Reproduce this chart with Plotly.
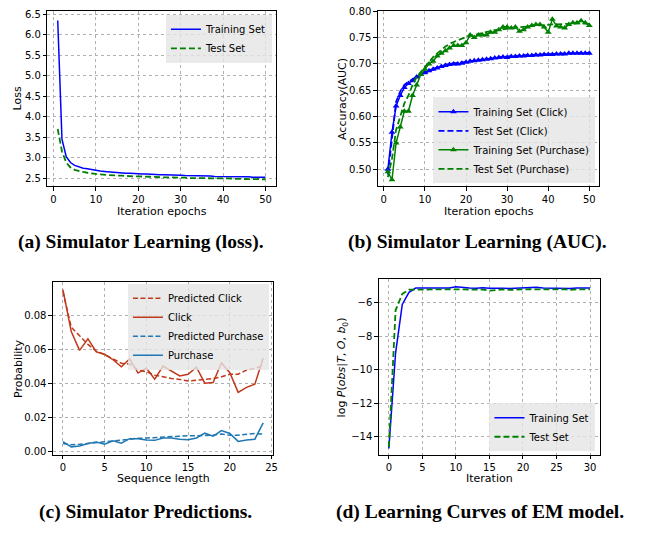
import plotly.graph_objects as go

# ---------- (a) loss ----------
epochs = list(range(1, 51))
loss_train = [6.35, 3.45, 3.02, 2.88, 2.81, 2.77, 2.74, 2.73, 2.71, 2.68,
              2.67, 2.66, 2.65, 2.64, 2.63, 2.63, 2.62, 2.62, 2.61, 2.61,
              2.60, 2.60, 2.59, 2.59, 2.58, 2.58, 2.58, 2.57, 2.57, 2.57,
              2.56, 2.56, 2.56, 2.55, 2.55, 2.55, 2.55, 2.54, 2.54, 2.54,
              2.54, 2.53, 2.53, 2.53, 2.53, 2.53, 2.52, 2.52, 2.52, 2.52]
loss_test = [3.70, 3.15, 2.88, 2.76, 2.70, 2.67, 2.65, 2.63, 2.61, 2.60,
             2.59, 2.58, 2.58, 2.57, 2.56, 2.56, 2.55, 2.55, 2.54, 2.54,
             2.54, 2.53, 2.53, 2.53, 2.52, 2.52, 2.52, 2.51, 2.51, 2.51,
             2.51, 2.50, 2.50, 2.50, 2.50, 2.50, 2.49, 2.49, 2.49, 2.49,
             2.49, 2.49, 2.48, 2.48, 2.48, 2.48, 2.48, 2.48, 2.47, 2.47]

# ---------- (b) AUC ----------
auc_train_click = [0.500, 0.570, 0.620, 0.640, 0.655, 0.663, 0.668, 0.675, 0.680, 0.683,
                   0.687, 0.690, 0.692, 0.695, 0.697, 0.699, 0.700, 0.700, 0.701, 0.703,
                   0.705, 0.706, 0.707, 0.708, 0.709, 0.710, 0.711, 0.712, 0.713, 0.712,
                   0.714, 0.714, 0.715, 0.715, 0.716, 0.716, 0.717, 0.717, 0.718, 0.718,
                   0.718, 0.719, 0.719, 0.719, 0.720, 0.720, 0.720, 0.720, 0.720, 0.720]
auc_test_click = [0.490, 0.555, 0.628, 0.648, 0.660, 0.666, 0.671, 0.676, 0.680, 0.684,
                  0.688, 0.691, 0.693, 0.696, 0.698, 0.700, 0.701, 0.702, 0.703, 0.704,
                  0.706, 0.707, 0.708, 0.709, 0.710, 0.711, 0.712, 0.713, 0.713, 0.714,
                  0.715, 0.715, 0.716, 0.716, 0.717, 0.717, 0.718, 0.718, 0.718, 0.719,
                  0.719, 0.719, 0.720, 0.720, 0.720, 0.720, 0.721, 0.721, 0.721, 0.721]
auc_train_purchase = [0.495, 0.480, 0.550, 0.580, 0.610, 0.610, 0.640, 0.660, 0.680, 0.690,
                      0.700, 0.705, 0.715, 0.720, 0.725, 0.730, 0.735, 0.735, 0.735, 0.740,
                      0.755, 0.750, 0.755, 0.755, 0.755, 0.760, 0.760, 0.765, 0.770, 0.770,
                      0.768, 0.770, 0.762, 0.765, 0.770, 0.773, 0.775, 0.775, 0.770, 0.760,
                      0.785, 0.772, 0.770, 0.768, 0.775, 0.778, 0.778, 0.782, 0.778, 0.773]
auc_test_purchase = [0.485, 0.520, 0.575, 0.600, 0.625, 0.640, 0.660, 0.675, 0.685, 0.695,
                     0.705, 0.713, 0.720, 0.727, 0.733, 0.738, 0.742, 0.745, 0.748, 0.751,
                     0.753, 0.755, 0.757, 0.759, 0.761, 0.762, 0.764, 0.765, 0.766, 0.767,
                     0.768, 0.769, 0.770, 0.771, 0.772, 0.772, 0.773, 0.773, 0.774, 0.774,
                     0.775, 0.775, 0.776, 0.776, 0.776, 0.777, 0.777, 0.777, 0.777, 0.776]

# ---------- (c) predictions ----------
seq_len = list(range(0, 25))
pred_click = [0.094, 0.073, 0.068, 0.063, 0.059, 0.057, 0.0545, 0.052, 0.0515, 0.048,
              0.047, 0.045, 0.044, 0.043, 0.0425, 0.0415, 0.042, 0.0425, 0.043, 0.044,
              0.0455, 0.0455, 0.048, 0.049, 0.0505]
click = [0.095, 0.0705, 0.0595, 0.0663, 0.0586, 0.0572, 0.054, 0.0499, 0.0545, 0.0462,
         0.0491, 0.0426, 0.0503, 0.0474, 0.0445, 0.0455, 0.0497, 0.0403, 0.0407, 0.0522,
         0.0464, 0.0349, 0.0378, 0.0397, 0.055]
pred_purchase = [0.0050, 0.0042, 0.0045, 0.0050, 0.0058, 0.0063, 0.0068, 0.0072, 0.0075, 0.0080,
                 0.0082, 0.0085, 0.0090, 0.0092, 0.0095, 0.0095, 0.0095, 0.0095, 0.0098, 0.0105,
                 0.0098, 0.0098, 0.0105, 0.0108, 0.0105]
purchase = [0.0060, 0.0030, 0.0035, 0.0050, 0.0058, 0.0045, 0.0065, 0.0052, 0.0078, 0.0078,
            0.0070, 0.0068, 0.0082, 0.0082, 0.0075, 0.0072, 0.0082, 0.0110, 0.0093, 0.0125,
            0.0108, 0.0062, 0.0070, 0.0075, 0.0170]

# ---------- (d) EM ----------
em_iter = list(range(0, 31))
em_train = [-14.7, -9.0, -6.1, -5.38, -5.12, -5.12, -5.12, -5.12, -5.11, -5.12,
            -5.05, -5.10, -5.12, -5.13, -5.10, -5.14, -5.12, -5.14, -5.15, -5.13,
            -5.12, -5.11, -5.08, -5.12, -5.13, -5.12, -5.11, -5.15, -5.12, -5.10, -5.12]
em_test = [-14.6, -6.45, -5.47, -5.22, -5.22, -5.20, -5.21, -5.20, -5.20, -5.19,
           -5.18, -5.20, -5.21, -5.20, -5.21, -5.28, -5.22, -5.20, -5.23, -5.21,
           -5.20, -5.19, -5.20, -5.21, -5.20, -5.20, -5.19, -5.23, -5.20, -5.21, -5.20]

captions = ["(a) Simulator Learning (loss).", "(b) Simulator Learning (AUC).",
            "(c) Simulator Predictions.", "(d) Learning Curves of EM model."]

W, H = 659, 536
BLUE, GREEN = "#0000ff", "#008000"
RED, LBLUE = "#c0391b", "#1f77b4"
FONT = "DejaVu Sans"


def px(x):
    return x / W


def py(y):
    return 1 - y / H


fig = go.Figure()

# (a)
fig.add_trace(go.Scatter(x=epochs, y=loss_train, mode="lines", name="Training Set",
                         line=dict(color=BLUE, width=1.5), xaxis="x", yaxis="y", legend="legend"))
fig.add_trace(go.Scatter(x=epochs, y=loss_test, mode="lines", name="Test Set",
                         line=dict(color=GREEN, width=1.8, dash="6px,3px"), xaxis="x", yaxis="y", legend="legend"))
# (b)
fig.add_trace(go.Scatter(x=epochs, y=auc_train_click, mode="lines+markers", name="Training Set (Click)",
                         line=dict(color=BLUE, width=1.5), marker=dict(symbol="triangle-up", size=6, color=BLUE),
                         xaxis="x2", yaxis="y2", legend="legend2"))
fig.add_trace(go.Scatter(x=epochs, y=auc_test_click, mode="lines", name="Test Set (Click)",
                         line=dict(color=BLUE, width=1.8, dash="6px,3px"), xaxis="x2", yaxis="y2", legend="legend2"))
fig.add_trace(go.Scatter(x=epochs, y=auc_train_purchase, mode="lines+markers", name="Training Set (Purchase)",
                         line=dict(color=GREEN, width=1.5), marker=dict(symbol="triangle-up", size=6, color=GREEN),
                         xaxis="x2", yaxis="y2", legend="legend2"))
fig.add_trace(go.Scatter(x=epochs, y=auc_test_purchase, mode="lines", name="Test Set (Purchase)",
                         line=dict(color=GREEN, width=1.8, dash="6px,3px"), xaxis="x2", yaxis="y2", legend="legend2"))
# (c)
fig.add_trace(go.Scatter(x=seq_len, y=pred_click, mode="lines", name="Predicted Click",
                         line=dict(color=RED, width=1.5, dash="5px,2.5px"), xaxis="x3", yaxis="y3", legend="legend3"))
fig.add_trace(go.Scatter(x=seq_len, y=click, mode="lines", name="Click",
                         line=dict(color=RED, width=1.5), xaxis="x3", yaxis="y3", legend="legend3"))
fig.add_trace(go.Scatter(x=seq_len, y=pred_purchase, mode="lines", name="Predicted Purchase",
                         line=dict(color=LBLUE, width=1.5, dash="5px,2.5px"), xaxis="x3", yaxis="y3", legend="legend3"))
fig.add_trace(go.Scatter(x=seq_len, y=purchase, mode="lines", name="Purchase",
                         line=dict(color=LBLUE, width=1.5), xaxis="x3", yaxis="y3", legend="legend3"))
# (d)
fig.add_trace(go.Scatter(x=em_iter, y=em_train, mode="lines", name="Training Set",
                         line=dict(color=BLUE, width=1.5), xaxis="x4", yaxis="y4", legend="legend4"))
fig.add_trace(go.Scatter(x=em_iter, y=em_test, mode="lines", name="Test Set",
                         line=dict(color=GREEN, width=1.8, dash="6px,3px"), xaxis="x4", yaxis="y4", legend="legend4"))

axis_common = dict(showline=True, mirror=True, linecolor="black", linewidth=1,
                   ticks="outside", ticklen=3.5, tickcolor="black", tickwidth=1,
                   showgrid=True, gridcolor="#b0b0b0", griddash="dot", gridwidth=0.8,
                   zeroline=False, ticklabeloverflow="allow",
                   tickfont=dict(family=FONT, size=10, color="black"))

# domains (pixel-derived, reference picture coordinates)
dom = {
    "a": ([47.7, 278.0], [6.0, 184.0]),
    "b": ([380.7, 604.0], [6.0, 184.0]),
    "c": ([53.3, 275.3], [280.7, 456.7]),
    "d": ([381.7, 604.7], [278.3, 456.7]),
}


def xd(k):
    return [px(dom[k][0][0]), px(dom[k][0][1])]


def yd(k):
    return [py(dom[k][1][1]), py(dom[k][1][0])]


fig.update_layout(
    width=W, height=H, margin=dict(l=0, r=0, t=0, b=0),
    paper_bgcolor="white", plot_bgcolor="white",
    font=dict(family=FONT, size=10, color="black"),
    xaxis=dict(domain=xd("a"), anchor="y", range=[-1.45, 52.45], tickvals=[0, 10, 20, 30, 40, 50], **axis_common),
    yaxis=dict(domain=yd("a"), anchor="x", range=[2.30, 6.585], tickvals=[2.5, 3, 3.5, 4, 4.5, 5, 5.5, 6, 6.5],
               tickformat=".1f", **axis_common),
    xaxis2=dict(domain=xd("b"), anchor="y2", range=[-1.45, 52.45], tickvals=[0, 10, 20, 30, 40, 50], **axis_common),
    yaxis2=dict(domain=yd("b"), anchor="x2", range=[0.4677, 0.8006],
                tickvals=[0.5, 0.55, 0.6, 0.65, 0.7, 0.75, 0.8], tickformat=".2f", **axis_common),
    xaxis3=dict(domain=xd("c"), anchor="y3", range=[-1.2, 25.2], tickvals=[0, 5, 10, 15, 20, 25], **axis_common),
    yaxis3=dict(domain=yd("c"), anchor="x3", range=[-0.0017, 0.0998],
                tickvals=[0, 0.02, 0.04, 0.06, 0.08, 0.10], tickformat=".2f", **axis_common),
    xaxis4=dict(domain=xd("d"), anchor="y4", range=[-1.5, 31.5], tickvals=[0, 5, 10, 15, 20, 25, 30], **axis_common),
    yaxis4=dict(domain=yd("d"), anchor="x4", range=[-15.08, -4.59], tickvals=[-14, -12, -10, -8, -6], **axis_common),
)

leg_common = dict(bgcolor="rgba(229,229,229,0.8)", borderwidth=0, font=dict(family=FONT, size=10, color="black"),
                  xanchor="right", tracegroupgap=0, itemwidth=30)
fig.update_layout(
    legend=dict(x=px(274), y=py(10), yanchor="top", **leg_common),
    legend2=dict(x=px(600), y=py(181), yanchor="bottom", **leg_common),
    legend3=dict(x=px(271), y=py(283), yanchor="top", **leg_common),
    legend4=dict(x=px(600), y=py(453), yanchor="bottom", **leg_common),
)

ann = []
# x titles
for k, txt, ypix in [("a", "Iteration epochs", 210), ("b", "Iteration epochs", 210),
                     ("c", "Sequence length", 481), ("d", "Iteration", 481)]:
    cx = (dom[k][0][0] + dom[k][0][1]) / 2
    ann.append(dict(x=px(cx), y=py(ypix), xref="paper", yref="paper", text=txt, showarrow=False,
                    xanchor="center", yanchor="middle", font=dict(family=FONT, size=11, color="black")))
# y titles
for k, txt, xpix in [("a", "Loss", 18), ("b", "Accuracy(AUC)", 345), ("c", "Probability", 18),
                     ("d", "log <i>P</i>(<i>obs</i>|<i>T</i>, <i>O</i>, <i>b</i><sub>0</sub>)", 345)]:
    cy = (dom[k][1][0] + dom[k][1][1]) / 2
    ann.append(dict(x=px(xpix), y=py(cy), xref="paper", yref="paper", text=txt, showarrow=False,
                    textangle=-90, xanchor="center", yanchor="middle", font=dict(family=FONT, size=11, color="black")))
# captions
for txt, cx, cy in zip(captions, [142, 481, 147, 484], [241, 241, 515, 515]):
    ann.append(dict(x=px(cx), y=py(cy), xref="paper", yref="paper", text="<b>" + txt + "</b>", showarrow=False,
                    xanchor="center", yanchor="middle", font=dict(family="Liberation Serif", size=19.5, color="black")))
fig.update_layout(annotations=ann)

# remove the default 8px page margin so the figure sits at the window's top-left corner
fig.write_html("out.html", config={"displayModeBar": False},
               post_script="document.body.style.margin='0';")
